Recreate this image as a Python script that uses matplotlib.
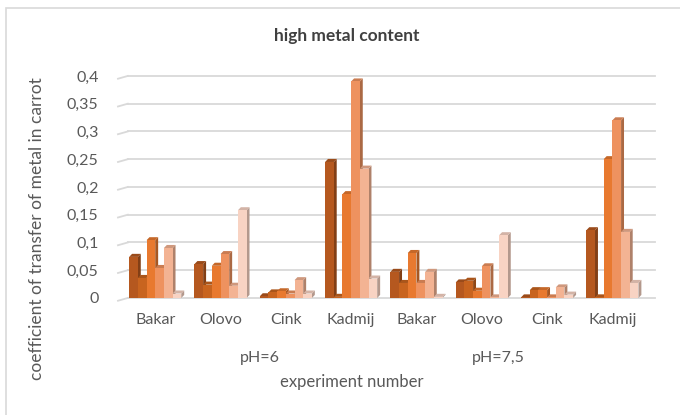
import numpy as np
import matplotlib
matplotlib.use("Agg")
import matplotlib.pyplot as plt
from matplotlib.patches import Polygon, Rectangle

plt.rcParams['font.family'] = ['Lato', 'DejaVu Sans']

# data (6 series per metal)
metals = ['Bakar', 'Olovo', 'Cink', 'Kadmij', 'Bakar', 'Olovo', 'Cink', 'Kadmij']
ph_labels = ['pH=6', 'pH=7,5']
s1 = [0.074, 0.061, 0.003, 0.245, 0.047, 0.028, 0.001, 0.122]
s2 = [0.036, 0.024, 0.010, 0.002, 0.027, 0.031, 0.014, 0.001]
s3 = [0.104, 0.058, 0.012, 0.187, 0.081, 0.013, 0.014, 0.250]
s4 = [0.054, 0.079, 0.008, 0.390, 0.027, 0.057, 0.001, 0.320]
s5 = [0.090, 0.022, 0.032, 0.233, 0.047, 0.001, 0.019, 0.119]
s6 = [0.008, 0.158, 0.008, 0.035, 0.002, 0.113, 0.006, 0.027]
series = [s1, s2, s3, s4, s5, s6]
colors = ['#B5581F', '#C8641F', '#E8792F', '#EE925F', '#F3B393', '#F8D3C3']

def shade(c, f):
    rgb = np.array(matplotlib.colors.to_rgb(c))
    return tuple(np.clip(rgb * f, 0, 1))

fig = plt.figure(figsize=(6.8, 4.15), dpi=100)
ax = fig.add_axes([0.1735, 0.282, 0.7895, 0.535])

xmin, xmax = -0.57, 7.65
ax.set_xlim(xmin, xmax)
ax.set_ylim(0, 0.4)

# gridlines with the little 3D floor slant at the left
slant = 0.15
for v in np.arange(0, 0.401, 0.05):
    ax.plot([xmin + slant, xmax], [v, v], color='#D9D9D9', lw=1.3, zorder=0,
            clip_on=False)
    ax.plot([xmin, xmin + slant], [v - 0.005, v], color='#D9D9D9', lw=1.3,
            zorder=0, clip_on=False)

# pseudo-3D columns
w = 0.133
dx, dy = 0.045, 0.0055
n = len(series)
x = np.arange(len(metals))
for g in range(len(metals)):
    left0 = x[g] - n * w / 2
    for k in range(n):
        h = series[k][g]
        l = left0 + k * w
        c = colors[k]
        side = Polygon([(l + w, 0), (l + w + dx, dy), (l + w + dx, h + dy), (l + w, h)],
                       closed=True, facecolor=shade(c, 0.72), edgecolor='none', zorder=2)
        top = Polygon([(l, h), (l + dx, h + dy), (l + w + dx, h + dy), (l + w, h)],
                      closed=True, facecolor=shade(c, 0.85), edgecolor='none', zorder=2)
        front = Rectangle((l, 0), w, h, facecolor=c, edgecolor='none', zorder=2)
        ax.add_patch(side)
        ax.add_patch(top)
        ax.add_patch(front)

for s in ax.spines.values():
    s.set_visible(False)
ax.tick_params(length=0, colors='#595959', labelsize=11.5)
ax.set_yticks(np.arange(0, 0.401, 0.05))
ax.set_yticklabels(['0' if v == 0 else f'{v:.2f}'.rstrip('0').replace('.', ',')
                    for v in np.arange(0, 0.401, 0.05)])
ax.tick_params(axis='y', pad=14)
ax.set_xticks(x)
ax.set_xticklabels(metals)
ax.tick_params(axis='x', pad=11)

trans = ax.get_xaxis_transform()
ax.text(1.6, -0.27, ph_labels[0], transform=trans, ha='center', va='center',
        fontsize=11.5, color='#595959')
ax.text(5.25, -0.27, ph_labels[1], transform=trans, ha='center', va='center',
        fontsize=11.5, color='#595959')

fig.text(352 / 680, 1 - 382 / 415, 'experiment number', ha='center', va='center',
         fontsize=12, color='#595959')
fig.text(37 / 680, 1 - 229 / 415, 'coefficient of transfer of metal in carrot',
         rotation=90, ha='center', va='center', fontsize=12.5, color='#595959')
fig.text(347 / 680, 1 - 36 / 415, 'high metal content', ha='center', va='center',
         fontsize=12.5, color='#404040', fontweight='bold')

# chart area border
fig.add_artist(Rectangle((6 / 680, -0.05), 1.0, 1 - 8 / 415 + 0.05,
                         transform=fig.transFigure, fill=False,
                         edgecolor='#D9D9D9', lw=1.2))

fig.savefig('out.png', dpi=100, facecolor='white')
